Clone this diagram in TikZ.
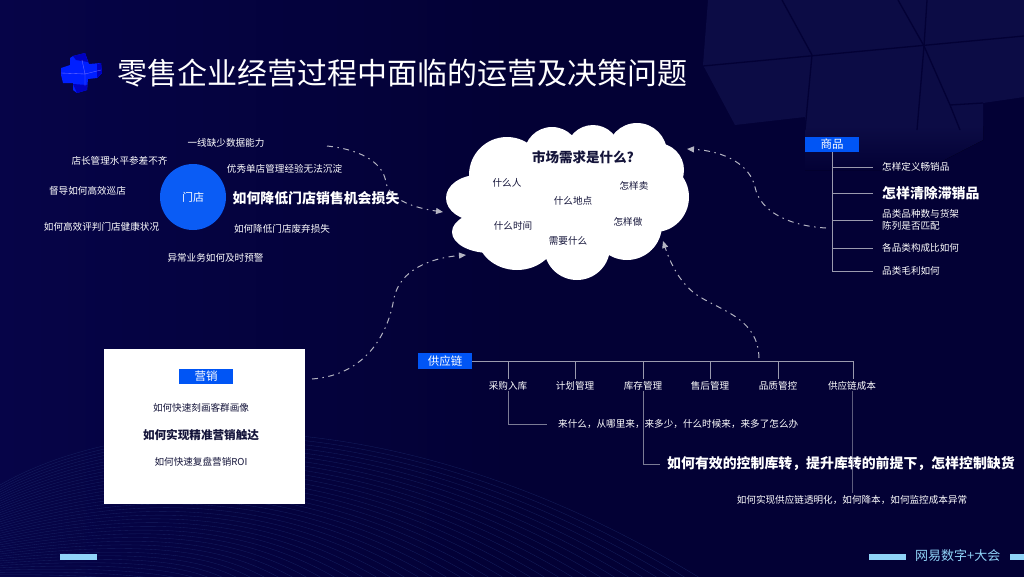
\documentclass[tikz,border=0pt]{standalone}
\usepackage{fontspec}
\setmainfont{Noto Sans CJK SC}
\usetikzlibrary{arrows.meta}
\definecolor{bgdark}{HTML}{030135}
\definecolor{bgleft}{HTML}{060448}
\definecolor{facet}{HTML}{0C0C45}
\definecolor{wave}{HTML}{1B2A6B}
\definecolor{brand}{HTML}{0055F5}
\definecolor{circ}{HTML}{0A5CF5}
\definecolor{conn}{HTML}{B4B4C2}
\definecolor{tree}{HTML}{9A9AAE}
\definecolor{ink}{HTML}{14143A}
\definecolor{sky}{HTML}{8FD3F7}
\tikzset{
  x=1pt,y=-1pt,
  lbl/.style={inner sep=0pt,text=white,font=\fontsize{9.6}{12}\selectfont},
  lbll/.style={lbl,anchor=west},
  big/.style={inner sep=0pt,text=white,font=\bfseries\fontsize{13.9}{16}\selectfont},
  bigl/.style={big,anchor=west},
  dark/.style={inner sep=0pt,text=ink,font=\fontsize{9.6}{12}\selectfont},
  tag/.style={fill=brand,text=white,inner sep=0pt,minimum width=54pt,minimum height=15.5pt,font=\fontsize{11.5}{13}\selectfont},
  flow/.style={conn,line width=1pt,dash pattern=on 6pt off 4.5pt on 1.5pt off 4.5pt,-{Triangle[length=7pt,width=6pt]}},
  treeline/.style={tree,line width=.7pt},
  cloudpart/.style={fill=white,draw=none},
  bar/.style={fill=sky,draw=none},
  seam/.style={bgdark,line width=1.3pt},
}
\begin{document}
\begin{tikzpicture}
\useasboundingbox (0,0) rectangle (1024,576);
\fill[left color=bgleft,right color=bgdark,middle color=bgdark] (0,0) rectangle (1024,576);
\begin{scope}
\clip (0,0) rectangle (1024,576);
% waves
\foreach \i in {0,...,44}{
  \draw[wave,line width=.35pt,opacity=.7]
    (0,{485+\i*2.3}) .. controls ({130+\i*0.5},{410+\i*4.2}) and ({400-\i*6},{395+\i*5}) .. ({700-\i*14},{578});
}
% facets
\fill[facet] (708,0) -- (1024,0) -- (1024,97) -- (983,103) -- (983,126) -- (805,126) -- (805,117) -- (735,125) -- (703,65) -- cycle;
\fill[top color=facet,bottom color=bgdark] (805,126) -- (983,126) -- (983,140) -- (925,170) -- (805,170) -- cycle;
\draw[seam] (703,66) -- (1024,36);
\draw[seam] (782,0) -- (812,55) -- (805,130);
\draw[seam] (898,0) -- (924,46) -- (917,130);
\draw[seam] (924,46) -- (950,105) -- (960,130);
\draw[seam] (927,0) -- (924,46);
\draw[seam] (950,105) -- (983,103);
\end{scope}
% logo
\fill[fill=blue!88!cyan] (73,56) -- (85,53) -- (89,64) -- (101,63) -- (102,73) -- (97,78) -- (88,79) -- (87,90) -- (77,93) -- (73,90) -- (73,83) -- (63,83) -- (61,75) -- (61,68) -- (70,65) -- (70,58) -- cycle;
\fill[blue!75!black] (73,56) -- (85,53) -- (88,62) -- (76,60) -- cycle;
\fill[blue!75!black] (97,64) -- (101,63) -- (102,73) -- (97,78) -- cycle;
\fill[blue!75!black] (73,84) -- (87,85) -- (87,90) -- (77,93) -- cycle;
\draw[blue!55!white,line width=.35pt] (61,73) -- (85,74) -- (101,70) (82,60) -- (85,74) -- (85,86);
% title
\node[inner sep=0pt,text=white,font=\fontsize{30}{34}\selectfont] (title) at (402,73) {零售企业经营过程中面临的运营及决策问题};
% store
\node[circle,fill=circ,minimum size=66pt,inner sep=0pt,text=white,font=\fontsize{11}{13}\selectfont] (store) at (193,197) {门店};
\node[lbl] (s1) at (226,143) {一线缺少数据能力};
\node[lbl] (s2) at (119.5,161) {店长管理水平参差不齐};
\node[lbl] (s3) at (284.5,169) {优秀单店管理经验无法沉淀};
\node[lbl] (s4) at (87.5,191) {督导如何高效巡店};
\node[big] (s5) at (316,198) {如何降低门店销售机会损失};
\node[lbl] (s6) at (101.5,227) {如何高效评判门店健康状况};
\node[lbl] (s7) at (282,229) {如何降低门店废弃损失};
\node[lbl] (s8) at (215.5,258) {异常业务如何及时预警};
% cloud
\fill[cloudpart] (507,175) circle[radius=38];
\fill[cloudpart] (552,155) circle[radius=28];
\fill[cloudpart] (593,152) circle[radius=27];
\fill[cloudpart] (637,153) circle[radius=30];
\fill[cloudpart] (657,170) circle[radius=27];
\fill[cloudpart] (655,197) ellipse[x radius=34,y radius=35];
\fill[cloudpart] (478,198) ellipse[x radius=32,y radius=23];
\fill[cloudpart] (490,232) ellipse[x radius=38,y radius=21];
\fill[cloudpart] (517,235) ellipse[x radius=40,y radius=35];
\fill[cloudpart] (577,247) circle[radius=33];
\fill[cloudpart] (627,225) circle[radius=35];
\fill[cloudpart] (570,200) ellipse[x radius=85,y radius=55];
\node[inner sep=0pt,text=ink,font=\bfseries\fontsize{13.5}{16}\selectfont] (q) at (583,157) {市场需求是什么?};
\node[dark] (c1) at (507,183) {什么人};
\node[dark] (c2) at (634,186) {怎样卖};
\node[dark] (c3) at (573,201) {什么地点};
\node[dark] (c4) at (513,226) {什么时间};
\node[dark] (c5) at (628,222) {怎样做};
\node[dark] (c6) at (568,241) {需要什么};
% product
\node[tag] (prod) at (832,144.5) {商品};
\node[lbll] (p1) at (882,167) {怎样定义畅销品};
\node[bigl] (p2) at (882,193) {怎样清除滞销品};
\node[lbll,align=left,font=\fontsize{9.6}{12}\selectfont] (p3) at (882,220) {品类品种数与货架\\陈列是否匹配};
\node[lbll] (p4) at (882,248) {各品类构成比如何};
\node[lbll] (p5) at (882,271) {品类毛利如何};
\coordinate (pb) at (832,271);
\draw[treeline] (prod.south) -- (pb) -- (873,271);
\foreach \y in {167,193,220,248}{\draw[treeline] (832,\y) -- (873,\y);}
% supply
\node[tag] (sup) at (445,361) {供应链};
\coordinate (sr) at (853,361);
\draw[treeline] (sup.east) -- (sr);
\node[lbl] (a1) at (508,386) {采购入库};
\node[lbl] (a2) at (575,386) {计划管理};
\node[lbl] (a3) at (643,386) {库存管理};
\node[lbl] (a4) at (710,386) {售后管理};
\node[lbl] (a5) at (778,386) {品质管控};
\node[lbl] (a6) at (852,386) {供应链成本};
\foreach \n/\x in {a1/508,a2/575,a3/643,a4/710,a5/778,a6/853}{\draw[treeline] (\x,361) -- (\x,379);}
\node[lbll] (d1) at (558,424) {来什么，从哪里来，来多少，什么时候来，来多了怎么办};
\node[bigl] (d2) at (667,464) {如何有效的控制库转，提升库转的前提下，怎样控制缺货};
\node[lbl] (d3) at (852,500) {如何实现供应链透明化，如何降本，如何监控成本异常};
\coordinate (e1) at (547,424);
\coordinate (e2) at (660,464);
\coordinate (e3) at (852,493);
\draw[treeline,opacity=.8] (a1.south) |- (e1);
\draw[treeline,opacity=.8] (a3.south) |- (e2);
\draw[treeline,opacity=.6] (a6.south) -- (e3);
% marketing
\node[fill=white,minimum width=201.5pt,minimum height=155pt,inner sep=0pt] (card) at (204.7,426.5) {};
\node[tag] (mk) at (206,376.5) {营销};
\node[dark] (m1) at (201,408) {如何快速刻画客群画像};
\node[inner sep=0pt,text=ink,font=\bfseries\fontsize{11.6}{14}\selectfont] (m2) at (201,435) {如何实现精准营销触达};
\node[dark] (m3) at (201,462) {如何快速复盘营销ROI};
% flow connectors
\coordinate (f1a) at (327,146);
\coordinate (f1b) at (443,212);
\coordinate (f2a) at (312,379);
\coordinate (f2b) at (466,255);
\coordinate (f3a) at (826,228);
\coordinate (f3b) at (687,149);
\coordinate (f4a) at (759,358);
\coordinate (f4b) at (663,241);
\draw[flow] (f1a) .. controls (365,150) and (384,165) .. (386,183) .. controls (390,200) and (415,208) .. (f1b);
\draw[flow] (f2a) .. controls (365,375) and (388,335) .. (394,298) .. controls (400,270) and (430,258) .. (f2b);
\draw[flow] (f3a) .. controls (790,226) and (760,212) .. (755,187) .. controls (750,165) and (725,151) .. (f3b);
\draw[flow] (f4a) .. controls (758,320) and (725,312) .. (700,297) .. controls (680,285) and (670,262) .. (f4b);
% footer
\fill[bar] (60,554) rectangle (97,559.5);
\fill[bar] (869,554) rectangle (906,559.5);
\fill[bar] (1010,554) rectangle (1024,559.5);
\node[inner sep=0pt,anchor=west,text=sky,font=\fontsize{13}{15}\selectfont] (brandtxt) at (915,556) {网易数字+大会};
\end{tikzpicture}
\end{document}
